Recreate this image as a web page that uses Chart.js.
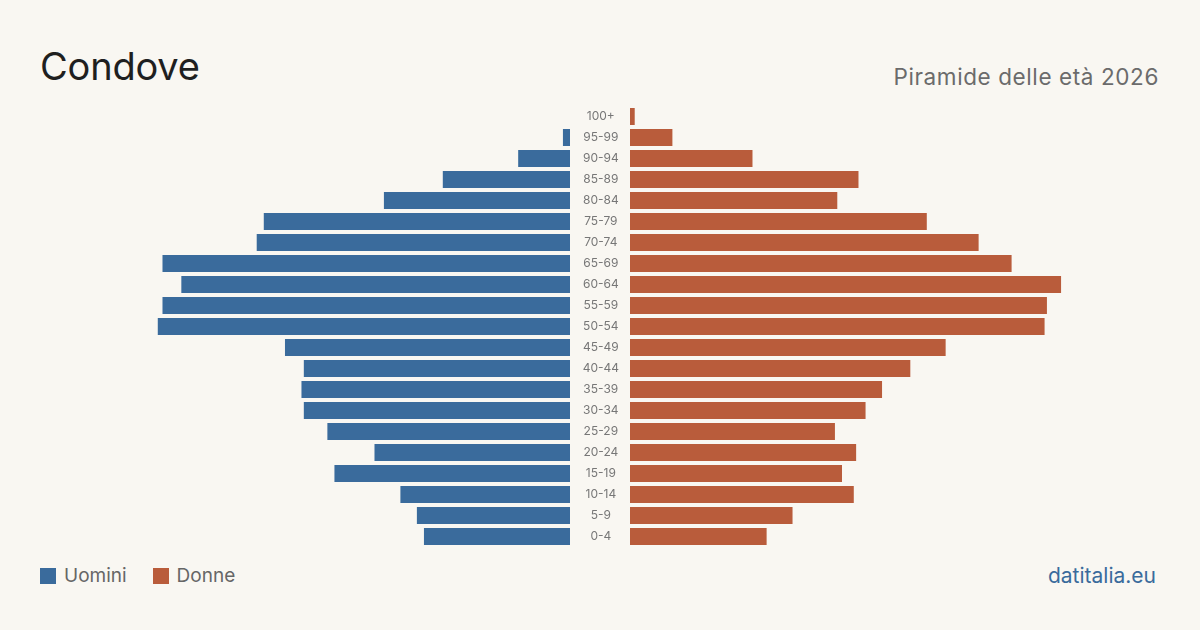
<!DOCTYPE html>
<html><head><meta charset="utf-8">
<script src="https://cdn.jsdelivr.net/npm/chart.js@4.4.1/dist/chart.umd.min.js"></script>
<style>
html,body{margin:0;padding:0;background:#f9f7f2;}
body{width:1200px;height:630px;position:relative;overflow:hidden;font-family:Inter,"Noto Sans",sans-serif;}
#title{position:absolute;left:40px;top:41px;font-size:38px;color:#1f1f1f;line-height:50px;letter-spacing:-0.2px;}
#sub{position:absolute;right:41px;top:62px;font-size:22.5px;color:#6b6b6b;line-height:30px;letter-spacing:0.6px;}
#legend{position:absolute;left:40px;top:565px;font-size:19px;color:#666;line-height:22px;display:flex;align-items:center;}
.sw{display:inline-block;width:16px;height:16px;margin-right:8px;}
.li{display:flex;align-items:center;margin-right:26px;}
#wm{position:absolute;right:44px;top:564px;font-size:21px;color:#3a6b9c;line-height:24px;}
#lw{position:absolute;left:40px;top:106px;width:530px;height:441px;}
#rw{position:absolute;left:570px;top:106px;width:590px;height:441px;}
</style></head>
<body>
<div id="title">Condove</div>
<div id="sub">Piramide delle età 2026</div>
<div id="lw"><canvas id="cl"></canvas></div>
<div id="rw"><canvas id="cr"></canvas></div>
<div id="legend"><span class="li"><span class="sw" style="background:#3a6b9c"></span>Uomini</span><span class="li"><span class="sw" style="background:#b95c3b"></span>Donne</span></div>
<div id="wm">datitalia.eu</div>
<script>
const ageGroups = ["100+","95-99","90-94","85-89","80-84","75-79","70-74","65-69","60-64","55-59","50-54","45-49","40-44","35-39","30-34","25-29","20-24","15-19","10-14","5-9","0-4"];
const men   = [0,3,22,54,79,130,133,173,165,173,175,121,113,114,113,103,83,100,72,65,62];
const women = [2,18,52,97,88,126,148,162,183,177,176,134,119,107,100,87,96,90,95,69,58];
const axisMax = 225;
const blue = "#3a6b9c", orange = "#b95c3b";

const common = {
  indexAxis:'y', responsive:true, maintainAspectRatio:false, animation:false,
  layout:{padding:0},
  plugins:{legend:{display:false},tooltip:{enabled:false}},
};
new Chart(document.getElementById('cl'), {
  type:'bar',
  data:{labels:ageGroups, datasets:[{label:'Uomini', data:men, backgroundColor:blue, barPercentage:0.81, categoryPercentage:1}]},
  options:Object.assign({}, common, {
    scales:{
      x:{display:false, reverse:true, min:0, max:axisMax},
      y:{display:false}
    }
  })
});
new Chart(document.getElementById('cr'), {
  type:'bar',
  data:{labels:ageGroups, datasets:[{label:'Donne', data:women, backgroundColor:orange, barPercentage:0.81, categoryPercentage:1}]},
  options:Object.assign({}, common, {
    scales:{
      x:{display:false, min:0, max:axisMax},
      y:{display:true, grid:{display:false}, border:{display:false},
         ticks:{crossAlign:'center', padding:3, color:'#777', font:{family:'Inter', size:12}},
         afterFit(s){ s.width = 60; s.paddingTop = 0; s.paddingBottom = 0; }}
    }
  })
});
</script>
</body></html>
